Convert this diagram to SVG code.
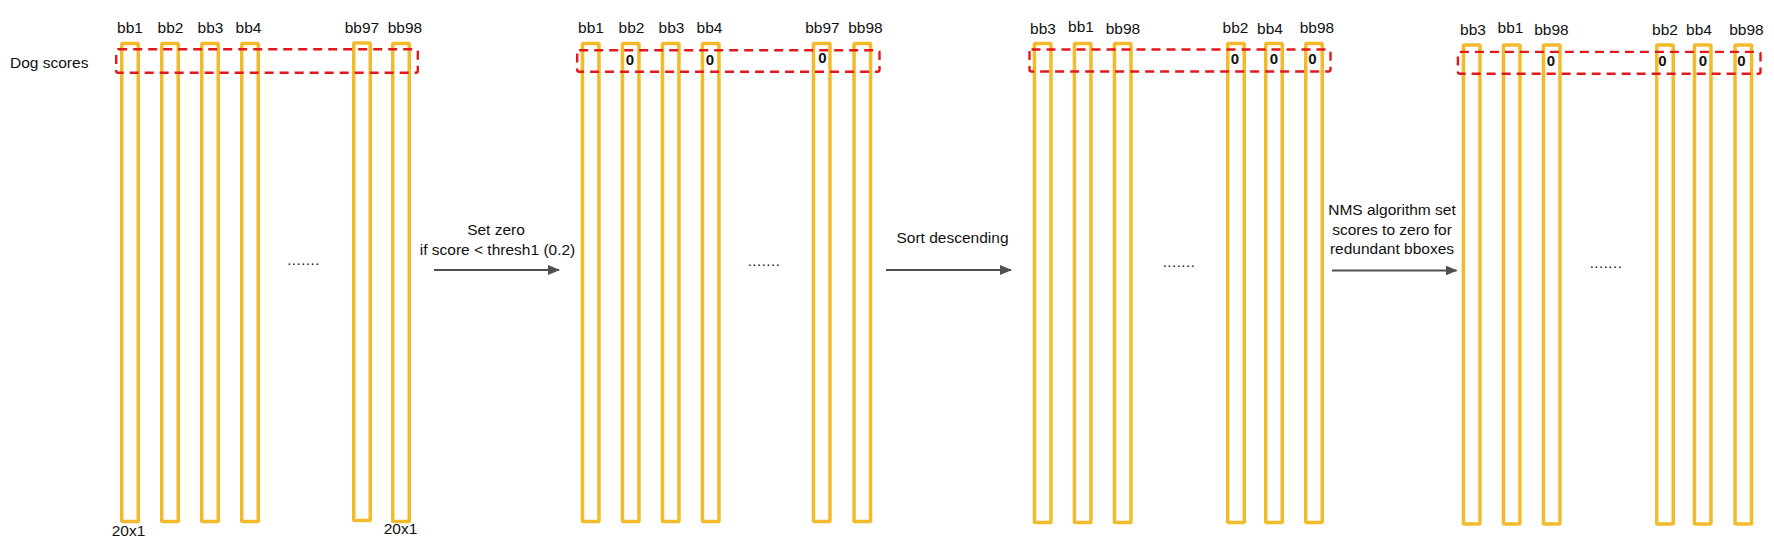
<svg xmlns="http://www.w3.org/2000/svg" width="1774" height="543" viewBox="0 0 1774 543">
<style>
.bar{fill:none;stroke:#F3BA2B;stroke-width:3.5}
.sel{fill:none;stroke:#E2191C;stroke-width:2.4;stroke-dasharray:9 6}
.t{font-family:"Liberation Sans",Arial,sans-serif;font-size:15.5px;fill:#111;text-anchor:middle}
.z{font-family:"Liberation Sans",Arial,sans-serif;font-size:15px;font-weight:bold;fill:#111;text-anchor:middle}
.dots{font-family:"Liberation Sans",Arial,sans-serif;font-size:15px;fill:#111;text-anchor:middle;letter-spacing:0.5px}
.arr{stroke:#505050;stroke-width:2;fill:none}
</style>
<defs>
<marker id="ah" viewBox="0 0 12 10" refX="11" refY="5" markerWidth="12" markerHeight="10" markerUnits="userSpaceOnUse" orient="auto">
<path d="M0,0 L12,5 L0,10 z" fill="#505050"/>
</marker>
</defs>

<text class="t" x="10" y="68" style="text-anchor:start">Dog scores</text>

<g id="panel1">
<g id="p1-bb1"><rect class="bar" x="121.75" y="43.5" width="16.5" height="478" rx="1"/><text class="t" x="130" y="33">bb1</text></g>
<g id="p1-bb2"><rect class="bar" x="161.75" y="43.5" width="16.5" height="478" rx="1"/><text class="t" x="170.5" y="33">bb2</text></g>
<g id="p1-bb3"><rect class="bar" x="201.75" y="43.5" width="16.5" height="478" rx="1"/><text class="t" x="210.5" y="33">bb3</text></g>
<g id="p1-bb4"><rect class="bar" x="241.75" y="43.5" width="16.5" height="478" rx="1"/><text class="t" x="248.5" y="33">bb4</text></g>
<g id="p1-bb97"><rect class="bar" x="353.75" y="43" width="16.5" height="477.5" rx="1"/><text class="t" x="362" y="33">bb97</text></g>
<g id="p1-bb98"><rect class="bar" x="392.75" y="43.5" width="16.5" height="478" rx="1"/><text class="t" x="405" y="33">bb98</text></g>
<rect class="sel" x="116.2" y="49.2" width="301.6" height="23.6" rx="2"/>
<text class="dots" x="303.5" y="265">.......</text>
<text class="t" x="128.5" y="536">20x1</text>
<text class="t" x="400.5" y="534">20x1</text>
</g>

<g id="panel2">
<g id="p2-bb1"><rect class="bar" x="582.45" y="43.45" width="16.5" height="478" rx="1"/><text class="t" x="591" y="33">bb1</text></g>
<g id="p2-bb2"><rect class="bar" x="622.45" y="43.45" width="16.5" height="478" rx="1"/><text class="t" x="631.5" y="33">bb2</text><text class="z" x="630" y="65">0</text></g>
<g id="p2-bb3"><rect class="bar" x="662.45" y="43.45" width="16.5" height="478" rx="1"/><text class="t" x="671.5" y="33">bb3</text></g>
<g id="p2-bb4"><rect class="bar" x="702.45" y="43.45" width="16.5" height="478" rx="1"/><text class="t" x="709.5" y="33">bb4</text><text class="z" x="710" y="65">0</text></g>
<g id="p2-bb97"><rect class="bar" x="813.45" y="43.45" width="16.5" height="478" rx="1"/><text class="t" x="822.5" y="33">bb97</text><text class="z" x="822.5" y="63">0</text></g>
<g id="p2-bb98"><rect class="bar" x="854.05" y="43.45" width="16.5" height="478" rx="1"/><text class="t" x="865.5" y="33">bb98</text></g>
<rect class="sel" x="577.2" y="50.2" width="302.3" height="21.6" rx="2"/>
<text class="dots" x="764" y="266">.......</text>
</g>

<g id="panel3">
<g id="p3-bb3"><rect class="bar" x="1034.45" y="43.45" width="16.5" height="479" rx="1"/><text class="t" x="1043" y="34">bb3</text></g>
<g id="p3-bb1"><rect class="bar" x="1074.45" y="43.45" width="16.5" height="479" rx="1"/><text class="t" x="1081" y="31.5">bb1</text></g>
<g id="p3-bb98"><rect class="bar" x="1114.45" y="43.45" width="16.5" height="479" rx="1"/><text class="t" x="1123" y="33.5">bb98</text></g>
<g id="p3-bb2"><rect class="bar" x="1227.75" y="43.45" width="16.5" height="479" rx="1"/><text class="t" x="1235.5" y="33">bb2</text><text class="z" x="1235" y="64">0</text></g>
<g id="p3-bb4"><rect class="bar" x="1265.75" y="43.45" width="16.5" height="479" rx="1"/><text class="t" x="1270" y="34">bb4</text><text class="z" x="1274" y="64">0</text></g>
<g id="p3-bb98b"><rect class="bar" x="1305.75" y="43.45" width="16.5" height="479" rx="1"/><text class="t" x="1317" y="33">bb98</text><text class="z" x="1312.5" y="64">0</text></g>
<rect class="sel" x="1029.5" y="49.5" width="301" height="22" rx="2"/>
<text class="dots" x="1179" y="267">.......</text>
</g>

<g id="panel4">
<g id="p4-bb3"><rect class="bar" x="1463.45" y="45" width="16.5" height="479" rx="1"/><text class="t" x="1473" y="35">bb3</text></g>
<g id="p4-bb1"><rect class="bar" x="1503.45" y="45" width="16.5" height="479" rx="1"/><text class="t" x="1510.5" y="33">bb1</text></g>
<g id="p4-bb98"><rect class="bar" x="1543.45" y="45" width="16.5" height="479" rx="1"/><text class="t" x="1551.5" y="35">bb98</text><text class="z" x="1551" y="66">0</text></g>
<g id="p4-bb2"><rect class="bar" x="1656.75" y="45" width="16.5" height="479" rx="1"/><text class="t" x="1665" y="35">bb2</text><text class="z" x="1662.5" y="66">0</text></g>
<g id="p4-bb4"><rect class="bar" x="1694.45" y="45" width="16.5" height="479" rx="1"/><text class="t" x="1699" y="35">bb4</text><text class="z" x="1703" y="66">0</text></g>
<g id="p4-bb98b"><rect class="bar" x="1735.05" y="45" width="16.5" height="479" rx="1"/><text class="t" x="1746.5" y="35">bb98</text><text class="z" x="1741.5" y="66">0</text></g>
<rect class="sel" x="1457.9" y="51.9" width="302.6" height="21.9" rx="2"/>
<text class="dots" x="1606" y="268">.......</text>
</g>

<g id="connectors">
<g id="c1"><line class="arr" x1="434" y1="270" x2="559" y2="270" marker-end="url(#ah)"/>
<text class="t" x="496" y="235">Set zero</text>
<text class="t" x="497.5" y="255">if score &lt; thresh1 (0.2)</text></g>
<g id="c2"><line class="arr" x1="886" y1="270" x2="1011" y2="270" marker-end="url(#ah)"/>
<text class="t" x="952.5" y="242.5">Sort descending</text></g>
<g id="c3"><line class="arr" x1="1332" y1="270.5" x2="1456.5" y2="270.5" marker-end="url(#ah)"/>
<text class="t" x="1392" y="215">NMS algorithm set</text>
<text class="t" x="1392" y="235">scores to zero for</text>
<text class="t" x="1392" y="254">redundant bboxes</text></g>
</g>
</svg>
